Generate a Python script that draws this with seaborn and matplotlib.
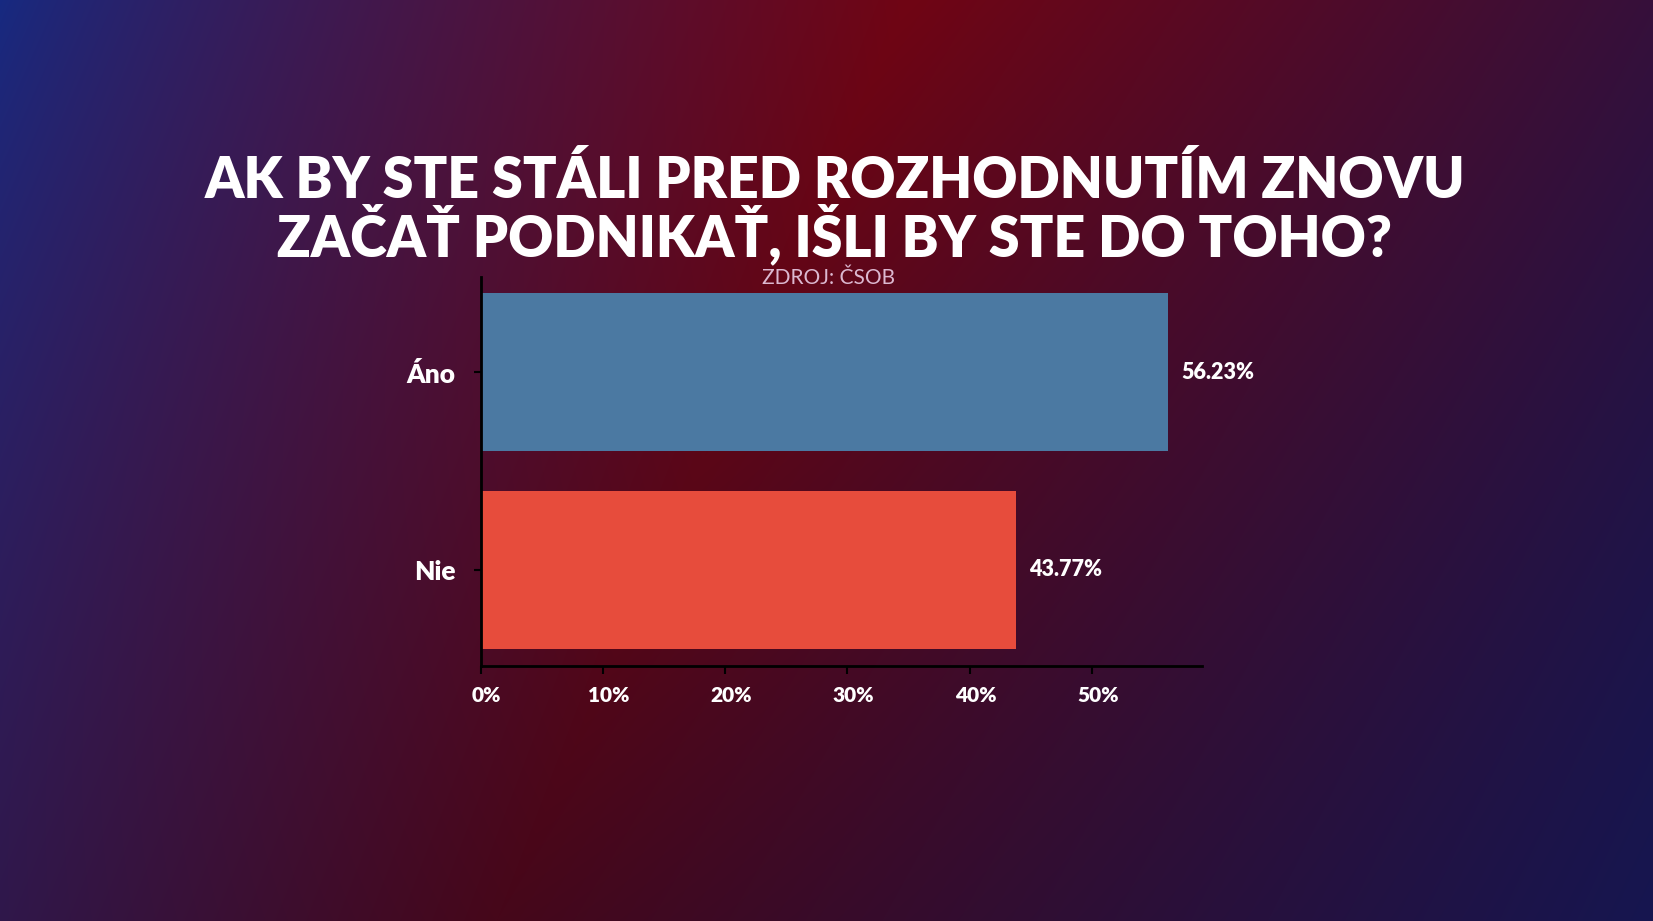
import numpy as np
import pandas as pd
import matplotlib
matplotlib.use("Agg")
import matplotlib.pyplot as plt
import matplotlib.transforms as mtransforms
import seaborn as sns

# ---- data ----
categories = ["Áno", "Nie"]
values = [56.23, 43.77]
value_labels = ["56.23%", "43.77%"]
tick_values = [0, 10, 20, 30, 40, 50]
tick_labels = ["0%", "10%", "20%", "30%", "40%", "50%"]
title = "AK BY STE STÁLI PRED ROZHODNUTÍM ZNOVU\nZAČAŤ PODNIKAŤ, IŠLI BY STE DO TOHO?"
source = "ZDROJ: ČSOB"
bar_colors = ["#4b79a2", "#e74c3c"]

df = pd.DataFrame({"cat": categories, "val": values})

sns.set_theme(style="white")
plt.rcParams["font.family"] = ["Lato", "DejaVu Sans"]

W, H = 1653, 921
fig = plt.figure(figsize=(W / 100, H / 100), dpi=100)

# ---- background gradient ----
bg = fig.add_axes([0, 0, 1, 1], zorder=0)
yy, xx = np.mgrid[0:H, 0:W]
s = (874 * xx / W * 1568 + 392 * yy / H * 874) / 1713040.0
v = yy / H
blue = np.array([22, 42, 130]) / 255.0
red_top = np.array([112, 5, 20]) / 255.0
red_bot = np.array([70, 7, 26]) / 255.0
navy = np.array([22, 22, 80]) / 255.0
red = red_top[None, None, :] * (1 - v[..., None]) + red_bot[None, None, :] * v[..., None]
t1 = np.clip(s / 0.44, 0, 1)[..., None] ** 0.8
left = blue[None, None, :] * (1 - t1) + red * t1
t2 = np.clip((s - 0.44) / 0.56, 0, 1)[..., None]
right = red * (1 - t2) + navy[None, None, :] * t2
img = np.where((s < 0.44)[..., None], left, right)
img = np.clip(img, 0, 1)
bg.imshow(img, aspect="auto", extent=[0, 1, 0, 1], origin="upper")
bg.set_axis_off()

# ---- main chart ----
ax = fig.add_axes([0.2908, 0.2765, 0.727 - 0.2908, 0.699 - 0.2765], zorder=1)
ax.patch.set_alpha(0)
sns.barplot(data=df, x="val", y="cat", hue="cat", palette=bar_colors,
            orient="h", width=0.8, legend=False, ax=ax, saturation=1,
            edgecolor="none")
for c, lab in zip(ax.containers, value_labels):
    ax.bar_label(c, labels=[lab], padding=10, color="white",
                 fontsize=15.5, fontweight="heavy")

ax.set_xlim(0, 59.0)
ax.set_ylim(1.49, -0.48)
ax.set_xticks(tick_values)
ax.set_xticklabels(tick_labels)
ax.set_xlabel("")
ax.set_ylabel("")
for sp in ["top", "right"]:
    ax.spines[sp].set_visible(False)
for sp in ["left", "bottom"]:
    ax.spines[sp].set_color("black")
    ax.spines[sp].set_linewidth(2)
ax.tick_params(axis="x", length=6, width=1.5, color="black", colors="white",
               labelsize=15, pad=8, direction="out", bottom=True)
ax.tick_params(axis="y", length=5, width=1.5, color="black", colors="white",
               labelsize=19, pad=13, direction="out", left=True)
offset = mtransforms.ScaledTranslation(6 / 100, 0, fig.dpi_scale_trans)
for lab in ax.get_xticklabels():
    lab.set_fontweight("heavy")
    lab.set_color("white")
    lab.set_transform(lab.get_transform() + offset)
for lab in ax.get_yticklabels():
    lab.set_fontweight("heavy")
    lab.set_color("white")

fig.text(0.505, 1 - 256 / H, title, ha="center", va="baseline",
         fontsize=40, fontweight="heavy", color="white", linespacing=0.93)
fig.text(0.5015, 1 - 278 / H, source, ha="center", va="center",
         fontsize=15, color="#dcb8d0")

fig.savefig("out.png", dpi=100)
